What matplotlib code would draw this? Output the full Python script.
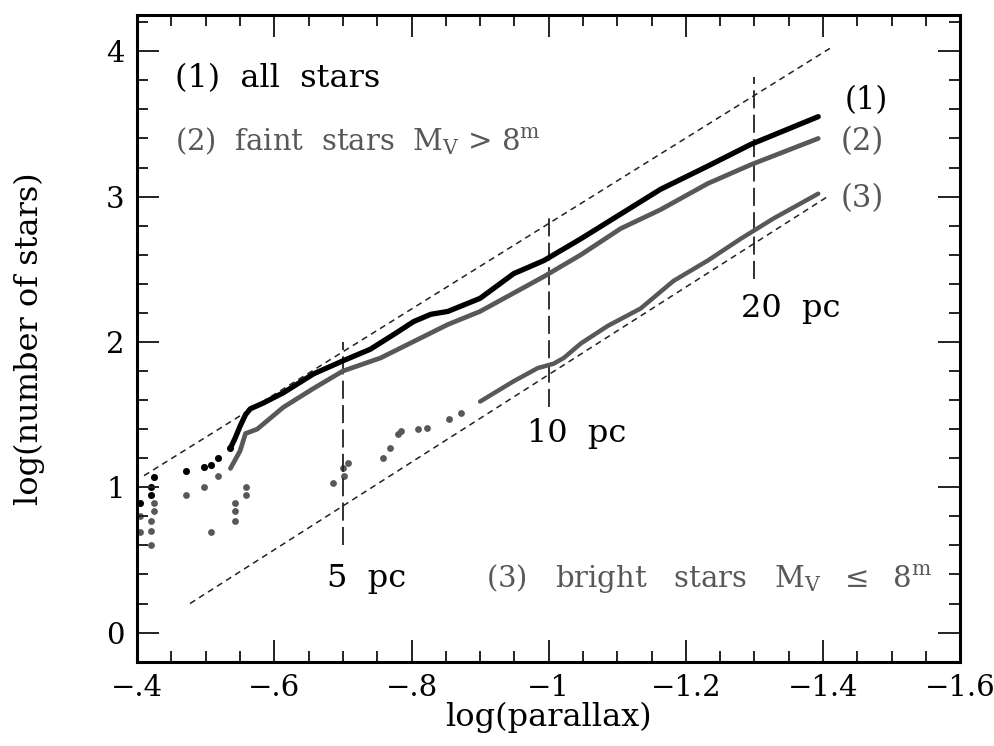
import matplotlib
matplotlib.use('Agg')
import matplotlib.pyplot as plt
from matplotlib.ticker import MultipleLocator, FuncFormatter

plt.rcParams['font.family'] = ['DejaVu Serif']
plt.rcParams['mathtext.fontset'] = 'dejavuserif'

GRAY = '#585858'

# (1) all stars - sparse dots at small distances, then dense sequence
all_dots_x = [-0.404, -0.42, -0.42, -0.425, -0.471, -0.498, -0.507, -0.518, -0.536]
all_dots_y = [0.89, 0.95, 1.00, 1.07, 1.11, 1.14, 1.155, 1.20, 1.27]
all_x = [-0.536, -0.543, -0.55, -0.558, -0.565, -0.584, -0.613, -0.657, -0.7, -0.74,
         -0.777, -0.803, -0.828, -0.853, -0.9, -0.949, -0.993, -1.047, -1.105, -1.163,
         -1.232, -1.295, -1.393]
all_y = [1.27, 1.34, 1.42, 1.50, 1.54, 1.58, 1.65, 1.78, 1.87, 1.95,
         2.06, 2.14, 2.19, 2.21, 2.30, 2.47, 2.56, 2.71, 2.88, 3.05,
         3.21, 3.36, 3.55]

# (2) faint stars
faint_dots_x = [-0.404, -0.42, -0.425, -0.425, -0.471, -0.498, -0.507, -0.518,
                -0.543, -0.543, -0.543, -0.558, -0.558]
faint_dots_y = [0.69, 0.77, 0.84, 0.89, 0.95, 1.00, 0.69, 1.08,
                0.77, 0.84, 0.89, 0.95, 1.00]
faint_x = [-0.536, -0.55, -0.558, -0.575, -0.613, -0.657, -0.7, -0.755, -0.853,
           -0.9, -0.993, -1.047, -1.105, -1.163, -1.232, -1.295, -1.393]
faint_y = [1.13, 1.25, 1.37, 1.40, 1.55, 1.68, 1.80, 1.89, 2.12,
           2.21, 2.45, 2.60, 2.78, 2.91, 3.09, 3.22, 3.40]

# (3) bright stars
bright_dots_x = [-0.404, -0.42, -0.42, -0.685, -0.7, -0.707, -0.702, -0.758, -0.769,
                 -0.78, -0.784, -0.81, -0.823, -0.854, -0.872]
bright_dots_y = [0.80, 0.60, 0.70, 1.03, 1.13, 1.17, 1.08, 1.20, 1.27,
                 1.37, 1.39, 1.40, 1.41, 1.47, 1.51]
bright_x = [-0.9, -0.949, -0.984, -1.007, -1.022, -1.047, -1.086, -1.134, -1.182,
            -1.232, -1.28, -1.328, -1.393]
bright_y = [1.59, 1.73, 1.82, 1.85, 1.89, 1.99, 2.11, 2.23, 2.42,
            2.56, 2.71, 2.85, 3.02]

# reference slopes (N ~ d^3) and distance markers
ref_upper_x = [-0.41, -1.41]
ref_upper_y = [1.08, 4.02]
ref_lower_x = [-0.477, -1.41]
ref_lower_y = [0.20, 3.01]
dist_x = [-0.7, -1.0, -1.3]
dist_ylo = [0.60, 1.55, 2.43]
dist_yhi = [2.00, 2.87, 3.82]
dist_labels = ['5  pc', '10  pc', '20  pc']

fig = plt.figure(figsize=(9.94, 7.46), dpi=100)
ax = fig.add_axes([0.138, 0.113, 0.828, 0.867])

ax.plot(ref_upper_x, ref_upper_y, color='#222222', lw=1.1, dashes=(4, 3))
ax.plot(ref_lower_x, ref_lower_y, color='#222222', lw=1.1, dashes=(4, 3))
for x, lo, hi in zip(dist_x, dist_ylo, dist_yhi):
    ax.plot([x, x], [lo, hi], color='#222222', lw=1.3, dashes=(10, 3.5))

ax.plot(bright_x, bright_y, color=GRAY, lw=3.2, solid_capstyle='round')
ax.scatter(bright_dots_x, bright_dots_y, s=24, color=GRAY, lw=0)
ax.plot(faint_x, faint_y, color=GRAY, lw=3.4, solid_capstyle='round')
ax.scatter(faint_dots_x, faint_dots_y, s=24, color=GRAY, lw=0)
ax.plot(all_x, all_y, color='black', lw=3.8, solid_capstyle='round')
ax.scatter(all_dots_x, all_dots_y, s=26, color='black', lw=0)

ax.set_xlim(-0.4, -1.6)
ax.set_ylim(-0.2, 4.25)
ax.xaxis.set_major_locator(MultipleLocator(0.2))
ax.xaxis.set_minor_locator(MultipleLocator(0.05))
ax.yaxis.set_major_locator(MultipleLocator(1))
ax.yaxis.set_minor_locator(MultipleLocator(0.2))


def xfmt(v, pos):
    s = '%g' % round(v, 2)
    return s.replace('-0.', '\u2212.').replace('-', '\u2212')


ax.xaxis.set_major_formatter(FuncFormatter(xfmt))
ax.tick_params(which='both', direction='in', top=True, right=True, labelsize=21,
               width=1.4, color='#222222')
ax.tick_params(which='major', length=16, pad=9)
ax.tick_params(which='minor', length=8)
for sp in ax.spines.values():
    sp.set_linewidth(2.2)

ax.set_xlabel('log(parallax)', fontsize=23, labelpad=0)
ax.set_ylabel('log(number of stars)', fontsize=23)
ax.yaxis.set_label_coords(-0.112, 0.5)

ax.text(-0.455, 3.81, '(1)  all  stars', fontsize=23, va='center')
ax.text(-0.455, 3.38, r'(2)  faint  stars  M$_{\rm V}$ > 8$^{\rm m}$', fontsize=21,
        va='center', color=GRAY)
ax.text(-0.908, 0.37, r'(3)   bright   stars   M$_{\rm V}$  $\leq$  8$^{\rm m}$', fontsize=21,
        va='center', color=GRAY)
ax.text(-1.432, 3.66, '(1)', fontsize=22, va='center')
ax.text(-1.425, 3.38, '(2)', fontsize=22, va='center', color=GRAY)
ax.text(-1.425, 2.99, '(3)', fontsize=22, va='center', color=GRAY)
ax.text(-0.677, 0.37, dist_labels[0], fontsize=23, va='center')
ax.text(-0.969, 1.37, dist_labels[1], fontsize=23, va='center')
ax.text(-1.28, 2.23, dist_labels[2], fontsize=23, va='center')

fig.savefig('out.png', dpi=100)
